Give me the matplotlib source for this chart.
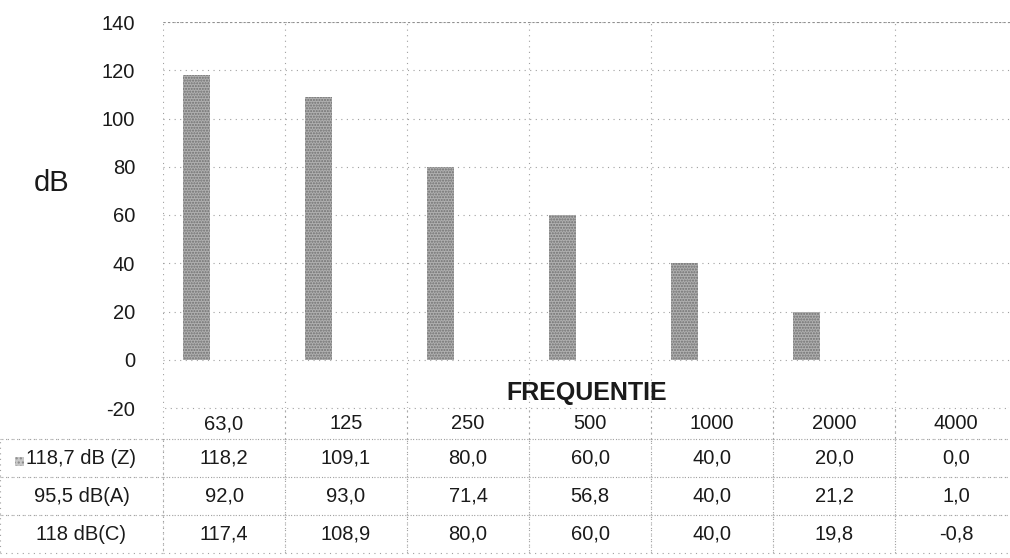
import numpy as np
import matplotlib
matplotlib.use('Agg')
import matplotlib.pyplot as plt
from matplotlib.patches import Rectangle

plt.rcParams['font.family'] = ['Liberation Sans', 'DejaVu Sans']

# frequencies and measured levels
freqs = ['63,0', '125', '250', '500', '1000', '2000', '4000']
series_names = ['118,7 dB (Z)', '95,5 dB(A)', '118 dB(C)']
z_vals = [118.2, 109.1, 80.0, 60.0, 40.0, 20.0, 0.0]
a_vals = [92.0, 93.0, 71.4, 56.8, 40.0, 21.2, 1.0]
c_vals = [117.4, 108.9, 80.0, 60.0, 40.0, 19.8, -0.8]
y_ticks = [-20, 0, 20, 40, 60, 80, 100, 120, 140]


def fmt(v):
    return ('%.1f' % v).replace('.', ',')


fig = plt.figure(figsize=(10.1, 5.58), dpi=100)
ax = fig.add_axes([163 / 1010, 150 / 558, 854 / 1010, 386 / 558])

x = np.arange(len(freqs))
bw = 0.222
ax.bar(x - bw, z_vals, width=bw, color='#b0b0b0', edgecolor='#707070',
       hatch='......', linewidth=0, zorder=3)

ax.set_xlim(-0.5, len(freqs) - 0.5)
ax.set_ylim(-20, 140)
ax.set_yticks(y_ticks)
ax.set_yticklabels([str(t) for t in y_ticks], fontsize=14.5, color='#1a1a1a')
ax.tick_params(axis='y', length=0, pad=20)
ax.set_xticks([])
ax.set_xticks(np.arange(-0.5, len(freqs)), minor=True)
ax.tick_params(axis='x', which='both', length=0, labelbottom=False)
for s in ax.spines.values():
    s.set_visible(False)

grid_style = dict(color='#a0a0a0', linestyle=(0, (1, 4)), linewidth=0.8)
ax.grid(True, axis='y', which='major', **grid_style)
ax.grid(True, axis='x', which='minor', **grid_style)
ax.set_axisbelow(True)
# top border is a bit denser in the original
ax.axhline(140, color='#909090', linestyle=(0, (2, 2)), linewidth=0.8)

ax.text(0.4965, 0.04, 'FREQUENTIE', transform=ax.transAxes, ha='center',
        va='center', fontsize=18, fontweight='bold', color='#1a1a1a')

fig.text(52 / 1010, 1 - 183 / 558, 'dB', fontsize=21, ha='center',
         va='center', color='#1a1a1a')

# data table below the chart
rows = [[series_names[0]] + [fmt(v) for v in z_vals],
        [series_names[1]] + [fmt(v) for v in a_vals],
        [series_names[2]] + [fmt(v) for v in c_vals]]
col_labels = [''] + freqs
col_widths = [163] + [122] * len(freqs)
tbl = ax.table(cellText=rows, colLabels=col_labels, colWidths=col_widths,
               cellLoc='center', bbox=[-163 / 854, -145 / 386, 1017 / 854, 145 / 386])
tbl.auto_set_font_size(False)
for (r, cidx), cell in tbl.get_celld().items():
    cell.set_height(31 if r == 0 else 38)
    cell.set_linestyle((0, (1, 4)))
    cell.set_edgecolor('#a0a0a0')
    cell.set_linewidth(0.8)
    cell.get_text().set_fontsize(14.5)
    cell.get_text().set_color('#1a1a1a')
    cell.set_facecolor('none')
    if r == 0 and cidx == 0:
        cell.visible_edges = 'B'

# legend key in front of the Z row
ax.add_patch(Rectangle((-148 / 854, -58 / 386), 9 / 854, 9 / 386,
                       transform=ax.transAxes, clip_on=False,
                       facecolor='#c8c8c8', edgecolor='#8a8a8a',
                       hatch='....', linewidth=0))

fig.savefig('out.png', dpi=100)
